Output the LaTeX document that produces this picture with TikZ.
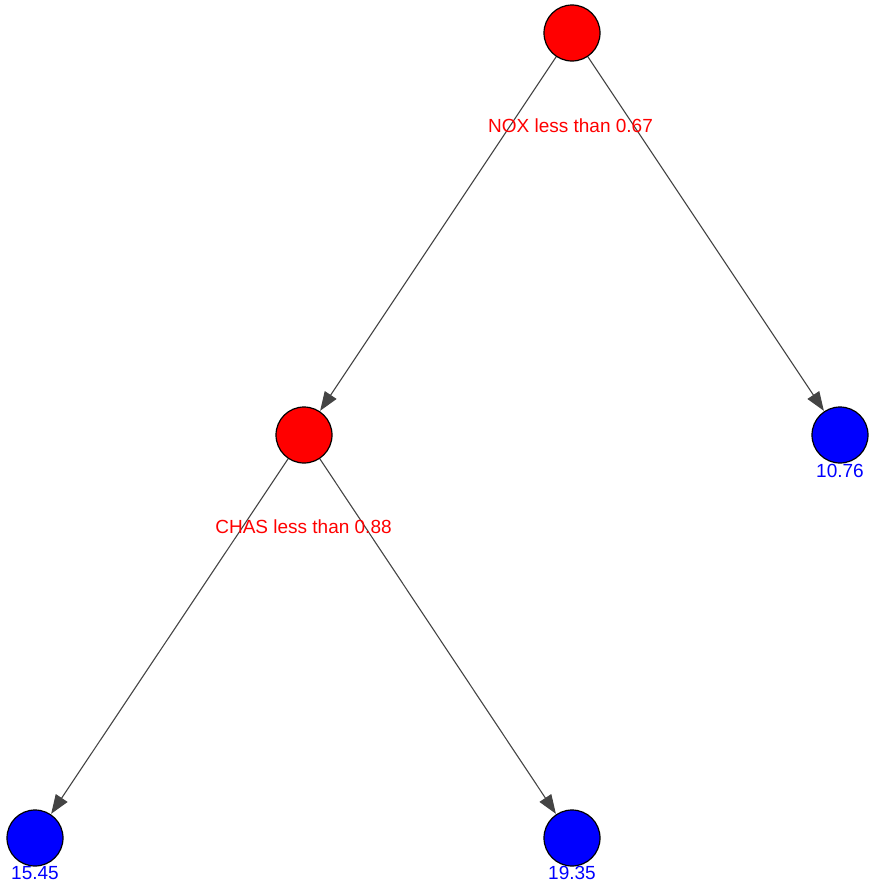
\documentclass[tikz,border=0pt]{standalone}
\usepackage{fontspec}
\setmainfont{Liberation Sans}
\usetikzlibrary{arrows.meta}
\definecolor{edgegray}{HTML}{444444}
\tikzset{
  splitnode/.style={circle, draw=black, line width=1.2pt, fill=red, minimum size=56pt, inner sep=0pt},
  leafnode/.style={circle, draw=black, line width=1.2pt, fill=blue, minimum size=56pt, inner sep=0pt},
  edge/.style={draw=edgegray, line width=1.1pt, -{Triangle[length=19pt,width=14pt,fill=edgegray]}, shorten >=0.5pt},
  rulelabel/.style={text=red, font=\fontsize{19}{19}\selectfont, anchor=base, inner sep=0pt},
  leaflabel/.style={text=blue, font=\fontsize{19}{19}\selectfont, anchor=base, inner sep=0pt}
}
\begin{document}
\begin{tikzpicture}[x=1pt,y=-1pt]
\useasboundingbox (0,0) rectangle (868,886);
\node[splitnode] (root) at (572,33) {};
\node[splitnode] (mid) at (304,435) {};
\node[leafnode] (r) at (840,435) {};
\node[leafnode] (l1) at (35,838) {};
\node[leafnode] (l2) at (572,838) {};
\draw[edge] (root) -- (mid);
\draw[edge] (root) -- (r);
\draw[edge] (mid) -- (l1);
\draw[edge] (mid) -- (l2);
\node[rulelabel] (t1) at (570.5,132) {NOX less than 0.67};
\node[rulelabel] (t2) at (303.5,533) {CHAS less than 0.88};
\node[leaflabel] (v1) at (840,477) {10.76};
\node[leaflabel] (v2) at (35,879) {15.45};
\node[leaflabel] (v3) at (572,879) {19.35};
\end{tikzpicture}
\end{document}
